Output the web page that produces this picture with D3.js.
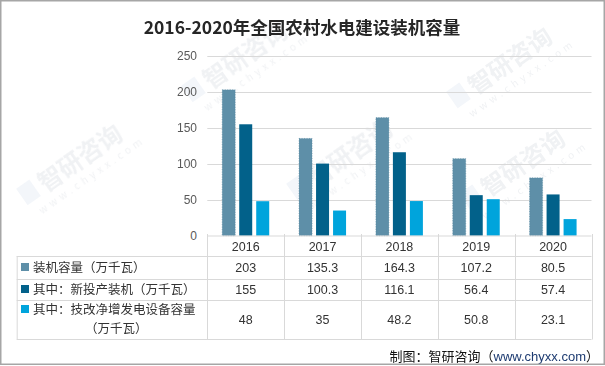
<!DOCTYPE html>
<html><head><meta charset="utf-8">
<script src="https://cdn.jsdelivr.net/npm/d3@7"></script>
<style>
html,body{margin:0;padding:0;background:#fff;}
svg{display:block;font-family:"Noto Sans CJK SC","Noto Sans",sans-serif;}
</style></head>
<body>
<script>
const years = ["2016","2017","2018","2019","2020"];
const seriesNames = ["装机容量（万千瓦）","其中：新投产装机（万千瓦）","其中：技改净增发电设备容量（万千瓦）"];
const installed = [203,135.3,164.3,107.2,80.5];
const newInstalled = [155,100.3,116.1,56.4,57.4];
const retrofit = [48,35,48.2,50.8,23.1];
const valueLabels = [
  ["203","135.3","164.3","107.2","80.5"],
  ["155","100.3","116.1","56.4","57.4"],
  ["48","35","48.2","50.8","23.1"]
];
const yTicks = [0,50,100,150,200,250];
const colors = ["#5E8FA8","#02618A","#00A4DC"];
const title = "2016-2020年全国农村水电建设装机容量";
const credit1 = "制图：智研咨询（";
const credit2 = "www.chyxx.com";
const credit3 = "）";

const W=605,H=366;
const svg=d3.select("body").append("svg").attr("width",W).attr("height",H);
svg.append("rect").attr("width",W).attr("height",H).attr("fill","#fff");

// watermarks (faint)
const wm=[[250,62],[355,160],[515,68],[528,170],[85,165]];
const wg=svg.append("g").attr("opacity",0.13);
wm.forEach(([wx,wy])=>{
  const g=wg.append("g").attr("transform",`translate(${wx},${wy}) rotate(-35)`);
  g.append("text").attr("x",0).attr("y",0).attr("font-size",24).attr("font-weight","bold").attr("fill","#8a97a8").attr("text-anchor","middle").text("智研咨询");
  g.append("text").attr("x",0).attr("y",16).attr("font-size",10).attr("fill","#8a97a8").attr("letter-spacing",4).attr("text-anchor","middle").text("www.chyxx.com");
  g.append("rect").attr("x",-70).attr("y",-20).attr("width",16).attr("height",20).attr("fill","#9fb6d6");
});

// title
svg.append("text").attr("x",302).attr("y",34).attr("text-anchor","middle")
  .attr("font-size",17.5).attr("font-weight","bold").attr("fill","#262626").text(title);

const pLeft=207.3,pRight=591.5,pTop=56,pBottom=235.7;
const x=d3.scaleBand().domain(years).range([pLeft,pRight]).paddingInner(0).paddingOuter(0);
const y=d3.scaleLinear().domain([0,250]).range([pBottom,pTop]);
const x1=d3.scaleBand().domain([0,1,2]).range([0,47]).paddingInner(4/17).paddingOuter(0);

// gridlines
svg.append("g").selectAll("line").data(yTicks.filter(d=>d>0)).join("line")
  .attr("x1",pLeft).attr("x2",pRight).attr("y1",d=>Math.round(y(d))+0.5).attr("y2",d=>Math.round(y(d))+0.5)
  .attr("stroke","#d9d9d9").attr("stroke-width",1);

// y axis labels
const yAxis=d3.axisLeft(y).tickValues(yTicks).tickSize(0).tickPadding(0);
const ya=svg.append("g").attr("transform",`translate(197,0)`).call(yAxis);
ya.select(".domain").remove();
ya.selectAll("text").attr("font-size",12).attr("fill","#595959").attr("font-family","Liberation Sans, Arial, sans-serif");

// bars
const data=[installed,newInstalled,retrofit];
const bars=svg.append("g");
data.forEach((arr,si)=>{
  bars.selectAll(null).data(arr).join("rect")
    .attr("x",(d,i)=>x(years[i])+(x.bandwidth()-47)/2+x1(si))
    .attr("width",x1.bandwidth())
    .attr("y",d=>y(d)).attr("height",d=>pBottom-y(d))
    .attr("fill",colors[si])
    .attr("stroke",si===0?"#53849d":"none").attr("stroke-width",si===0?0.6:0).attr("stroke-dasharray",si===0?"1,1.5":null);
});

// table
const tl=16.7;
const tg=svg.append("g").attr("stroke","#d9d9d9").attr("stroke-width",1).attr("fill","none");
tg.append("line").attr("x1",pLeft).attr("x2",pRight).attr("y1",236).attr("y2",236);
[256,278.5,300,339].forEach(v=>tg.append("line").attr("x1",tl).attr("x2",pRight).attr("y1",Math.round(v)+0.5).attr("y2",Math.round(v)+0.5));
tg.append("line").attr("x1",tl+0.5).attr("x2",tl+0.5).attr("y1",256).attr("y2",339.5);
const colEdges=years.map(d=>x(d)).concat([pRight]);
colEdges.forEach(v=>tg.append("line").attr("x1",Math.round(v)+0.5).attr("x2",Math.round(v)+0.5).attr("y1",234).attr("y2",339.5));

// year headers
svg.append("g").selectAll("text").data(years).join("text")
  .attr("x",d=>x(d)+x.bandwidth()/2).attr("y",251).attr("text-anchor","middle")
  .attr("font-size",12.5).attr("fill","#333").attr("font-family","Liberation Sans, Arial, sans-serif").text(d=>d);

// values
const valY=[272,294,324];
valueLabels.forEach((row,ri)=>{
  svg.append("g").selectAll("text").data(row).join("text")
    .attr("x",(d,i)=>x(years[i])+x.bandwidth()/2).attr("y",valY[ri]).attr("text-anchor","middle")
    .attr("font-size",12.5).attr("fill","#333").attr("font-family","Liberation Sans, Arial, sans-serif").text(d=>d);
});

// row labels
const labY=[272,294,314];
seriesNames.forEach((n,i)=>{
  svg.append("rect").attr("x",21).attr("y",labY[i]-9).attr("width",8).attr("height",8).attr("fill",colors[i]);
});
svg.append("text").attr("x",33).attr("y",labY[0]).attr("font-size",12.5).attr("fill","#333").text(seriesNames[0]);
svg.append("text").attr("x",33).attr("y",labY[1]).attr("font-size",12.5).attr("fill","#333").text(seriesNames[1]);
const l3=seriesNames[2];
const cut=l3.indexOf("（");
svg.append("text").attr("x",33).attr("y",313.5).attr("font-size",12.5).attr("fill","#333").text(l3.slice(0,cut));
svg.append("text").attr("x",85).attr("y",333).attr("font-size",12.5).attr("fill","#333").text(l3.slice(cut));

// credit
const ct=svg.append("text").attr("x",599).attr("y",361).attr("text-anchor","end").attr("font-size",13).attr("fill","#111");
ct.append("tspan").text(credit1);
ct.append("tspan").attr("fill","#1c3a70").attr("font-family","Liberation Sans, Arial, sans-serif").text(credit2);
ct.append("tspan").text(credit3);

// outer frame
svg.append("rect").attr("x",0.75).attr("y",0.75).attr("width",W-1.5).attr("height",H-2.5)
  .attr("fill","none").attr("stroke","#a6a6a6").attr("stroke-width",1.5);
</script>
</body></html>
